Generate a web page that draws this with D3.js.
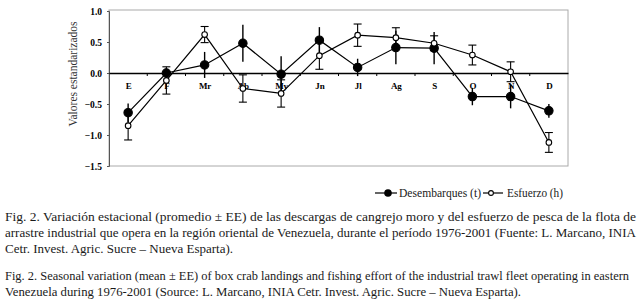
<!DOCTYPE html>
<html lang="es">
<head>
<meta charset="UTF-8">
<title>Fig. 2</title>
<script src="https://cdn.jsdelivr.net/npm/d3@7"></script>
<style>
    body { margin: 0; background: #fff; }
    svg { display: block; }
    .tick text { font-family: "Liberation Serif", "Times New Roman", serif; font-weight: bold; }
    .cap { font-family: "Liberation Serif", "Times New Roman", serif; fill: #1a1a1a; }
</style>
</head>
<body>
<svg width="639" height="304"></svg>
<script>
    // months (Spanish abbreviations as printed)
    const months = ["E", "F", "Mr", "Ab", "My", "Jn", "Jl", "Ag", "S", "O", "N", "D"];
    // Desembarques (t), standardized mean and EE
    const landings = [-0.64, 0.0, 0.13, 0.48, -0.02, 0.53, 0.09, 0.41, 0.40, -0.38, -0.38, -0.61];
    const landingsErr = [0.15, 0.08, 0.21, 0.30, 0.29, 0.21, 0.14, 0.27, 0.26, 0.14, 0.19, 0.11];
    // Esfuerzo (h)
    const effort = [-0.85, -0.12, 0.62, -0.25, -0.33, 0.28, 0.61, 0.57, 0.48, 0.29, 0.02, -1.12];
    const effortErr = [0.23, 0.22, 0.13, 0.22, 0.22, 0.22, 0.18, 0.16, 0.12, 0.16, 0.16, 0.16];
    const yTicks = [1.0, 0.5, 0.0, -0.5, -1.0, -1.5];

    const captionEs = [
        "Fig. 2. Variación estacional (promedio ± EE) de las descargas de cangrejo moro y del esfuerzo de pesca de la flota de",
        "arrastre industrial que opera en la región oriental de Venezuela, durante el período 1976-2001 (Fuente: L. Marcano, INIA",
        "Cetr. Invest. Agric. Sucre – Nueva Esparta)."
    ];
    const captionEn = [
        "Fig. 2. Seasonal variation (mean ± EE) of box crab landings and fishing effort of the industrial trawl fleet operating in eastern",
        "Venezuela during 1976-2001 (Source: L. Marcano, INIA Cetr. Invest. Agric. Sucre – Nueva Esparta)."
    ];

    const svg = d3.select("svg");
    const plotL = 109, plotR = 568, plotT = 11, plotB = 166;

    const x = d3.scalePoint().domain(months).range([plotL, plotR]).padding(0.5);
    const y = d3.scaleLinear().domain([-1.5, 1.0]).range([plotB, plotT]);
    const step = x.step();

    // plot frame
    svg.append("rect")
        .attr("x", plotL).attr("y", plotT - 1)
        .attr("width", plotR - plotL).attr("height", plotB - plotT + 1)
        .attr("fill", "none").attr("stroke", "#aaa").attr("stroke-width", 1);

    // y axis
    const yAxis = svg.append("g")
        .attr("transform", `translate(${plotL},0)`)
        .call(d3.axisLeft(y).tickValues(yTicks).tickSize(2).tickPadding(5).tickFormat(d3.format(".1f")));
    yAxis.select(".domain").attr("stroke", "#555");
    yAxis.selectAll(".tick line").attr("stroke", "#555");
    yAxis.selectAll(".tick text").attr("font-size", 9.5).attr("fill", "#000");

    // zero line with month ticks
    const xAxis = svg.append("g")
        .attr("transform", `translate(0,${y(0)})`)
        .call(d3.axisBottom(x).tickSize(0).tickPadding(10));
    xAxis.select(".domain").attr("stroke", "#000").attr("stroke-width", 1.6);
    xAxis.selectAll(".tick text").attr("font-size", 9).attr("fill", "#000");
    xAxis.selectAll(".sep")
        .data(d3.range(1, months.length))
        .join("line")
        .attr("class", "sep")
        .attr("x1", i => plotL + i * step).attr("x2", i => plotL + i * step)
        .attr("y1", 0).attr("y2", 3)
        .attr("stroke", "#000");

    svg.append("text")
        .attr("transform", "translate(77,74) rotate(-90)")
        .attr("text-anchor", "middle")
        .attr("font-family", "Liberation Serif, Times New Roman, serif")
        .attr("font-size", 11.5)
        .attr("fill", "#333")
        .text("Valores estandarizados");

    const line = d3.line().x((d, i) => x(months[i])).y(d => y(d));

    function drawSeries(vals, errs, filled, caps) {
        const g = svg.append("g");
        g.selectAll(".err")
            .data(vals)
            .join("line")
            .attr("x1", (d, i) => x(months[i])).attr("x2", (d, i) => x(months[i]))
            .attr("y1", (d, i) => y(d + errs[i])).attr("y2", (d, i) => y(d - errs[i]))
            .attr("stroke", "#000").attr("stroke-width", filled ? 1.4 : 1.1);
        if (caps) {
            vals.forEach((d, i) => {
                [d + errs[i], d - errs[i]].forEach(v => {
                    g.append("line")
                        .attr("x1", x(months[i]) - 4).attr("x2", x(months[i]) + 4)
                        .attr("y1", y(v)).attr("y2", y(v))
                        .attr("stroke", "#000").attr("stroke-width", 1.1);
                });
            });
        }
        g.append("path")
            .attr("d", line(vals))
            .attr("fill", "none").attr("stroke", "#000").attr("stroke-width", 1.2);
        g.selectAll("circle")
            .data(vals)
            .join("circle")
            .attr("cx", (d, i) => x(months[i])).attr("cy", d => y(d))
            .attr("r", filled ? 4.2 : 2.8)
            .attr("fill", filled ? "#000" : "#fff")
            .attr("stroke", "#000").attr("stroke-width", 1.1);
    }

    drawSeries(landings, landingsErr, true, false);
    drawSeries(effort, effortErr, false, true);

    // legend
    const ly = 193;
    const lg = svg.append("g");
    lg.append("line").attr("x1", 375).attr("x2", 397).attr("y1", ly).attr("y2", ly).attr("stroke", "#000").attr("stroke-width", 1.2);
    lg.append("circle").attr("cx", 388).attr("cy", ly).attr("r", 3.8).attr("fill", "#000");
    lg.append("text").attr("class", "cap").attr("x", 399).attr("y", ly + 4)
        .attr("font-size", 11.5).attr("textLength", 82).attr("lengthAdjust", "spacingAndGlyphs")
        .text("Desembarques (t)");
    lg.append("line").attr("x1", 483).attr("x2", 503).attr("y1", ly).attr("y2", ly).attr("stroke", "#000").attr("stroke-width", 1.2);
    lg.append("circle").attr("cx", 491).attr("cy", ly).attr("r", 2.4).attr("fill", "#fff").attr("stroke", "#000").attr("stroke-width", 1.1);
    lg.append("text").attr("class", "cap").attr("x", 507).attr("y", ly + 4)
        .attr("font-size", 11.5).attr("textLength", 56).attr("lengthAdjust", "spacingAndGlyphs")
        .text("Esfuerzo (h)");

    // captions, justified lines
    const esWidths = [631, 631, 228];
    const enWidths = [624, 516];
    captionEs.forEach((t, i) => {
        svg.append("text").attr("class", "cap")
            .attr("x", 5).attr("y", 220.5 + i * 16.3)
            .attr("font-size", 12)
            .attr("textLength", esWidths[i]).attr("lengthAdjust", "spacingAndGlyphs")
            .text(t);
    });
    captionEn.forEach((t, i) => {
        svg.append("text").attr("class", "cap")
            .attr("x", 5).attr("y", 280 + i * 15.5)
            .attr("font-size", 12)
            .attr("textLength", enWidths[i]).attr("lengthAdjust", "spacingAndGlyphs")
            .text(t);
    });
</script>
</body>
</html>
